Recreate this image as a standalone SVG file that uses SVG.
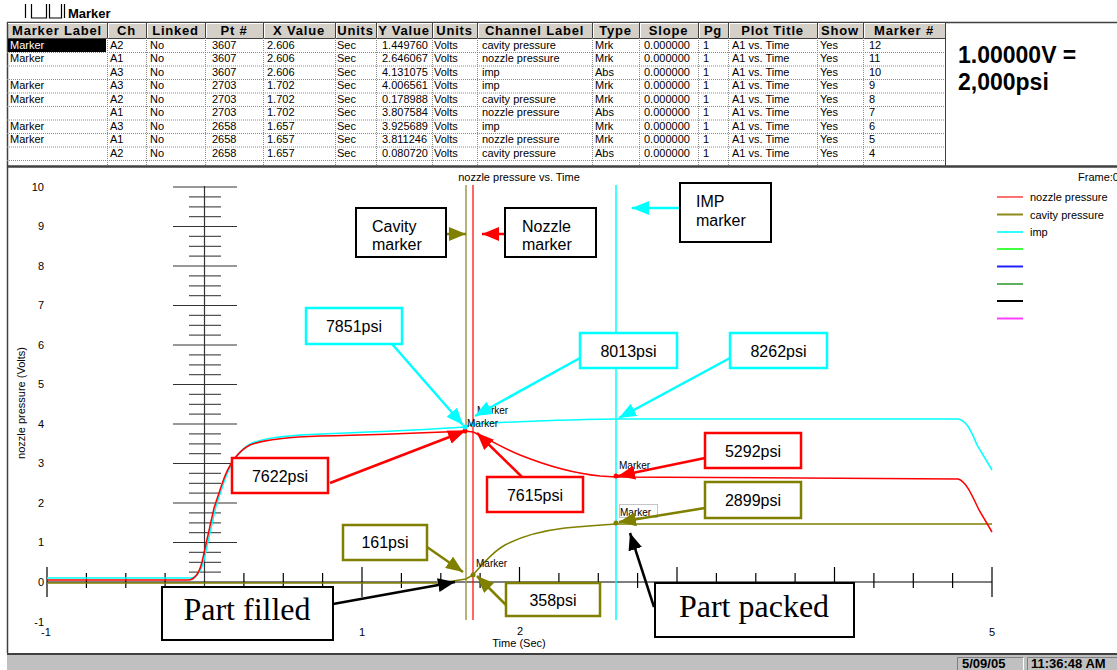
<svg xmlns="http://www.w3.org/2000/svg" width="1117" height="670" viewBox="0 0 1117 670">
<defs>
<style>
.sans{font-family:"Liberation Sans",Arial,sans-serif}
.hdr{font-family:"Liberation Sans",Arial,sans-serif;font-weight:bold;font-size:13px;letter-spacing:0.8px;text-anchor:middle;fill:#000}
.cell{font-family:"Liberation Sans",Arial,sans-serif;font-size:11px;fill:#000}
.ax{font-family:"Liberation Sans",Arial,sans-serif;font-size:11px;fill:#000}
.axr{font-family:"Liberation Sans",Arial,sans-serif;font-size:11px;fill:#000;text-anchor:end}
.axm{font-family:"Liberation Sans",Arial,sans-serif;font-size:11px;fill:#000;text-anchor:middle}
.note{font-family:"Liberation Sans",Arial,sans-serif;font-size:16px;fill:#000}
.notec{font-family:"Liberation Sans",Arial,sans-serif;font-size:16px;fill:#000;text-anchor:middle}
.big{font-family:"Liberation Serif","Times New Roman",serif;font-size:32px;fill:#000;text-anchor:middle}
.mk{font-family:"Liberation Sans",Arial,sans-serif;font-size:10px;fill:#000}
.dot{stroke:#8a8a8a;stroke-width:1;stroke-dasharray:1 1;fill:none}
.edge{stroke:#404040;fill:none}
.bc{fill:#fff;stroke:#00ffff;stroke-width:2.5}
.br{fill:#fff;stroke:#ff0000;stroke-width:2.5}
.bo{fill:#fff;stroke:#808000;stroke-width:2.5}
.bk{fill:#fff;stroke:#000;stroke-width:2}
.ac{stroke:#00ffff;stroke-width:2.5;fill:none;marker-end:url(#ah-c)}
.ar{stroke:#ff0000;stroke-width:2.5;fill:none;marker-end:url(#ah-r)}
.ao{stroke:#808000;stroke-width:2.5;fill:none;marker-end:url(#ah-o)}
.ak{stroke:#000;stroke-width:2.5;fill:none;marker-end:url(#ah-k)}
.stat{font-family:"Liberation Sans",Arial,sans-serif;font-size:13px;font-weight:bold;fill:#000}
</style>
<marker id="ah-c" viewBox="0 0 17 14" refX="17" refY="7" markerWidth="17" markerHeight="14" orient="auto" markerUnits="userSpaceOnUse"><path d="M0,0 L17,7 L0,14 z" fill="#00ffff"/></marker>
<marker id="ah-r" viewBox="0 0 17 14" refX="17" refY="7" markerWidth="17" markerHeight="14" orient="auto" markerUnits="userSpaceOnUse"><path d="M0,0 L17,7 L0,14 z" fill="#ff0000"/></marker>
<marker id="ah-o" viewBox="0 0 17 14" refX="17" refY="7" markerWidth="17" markerHeight="14" orient="auto" markerUnits="userSpaceOnUse"><path d="M0,0 L17,7 L0,14 z" fill="#808000"/></marker>
<marker id="ah-k" viewBox="0 0 17 14" refX="17" refY="7" markerWidth="17" markerHeight="14" orient="auto" markerUnits="userSpaceOnUse"><path d="M0,0 L17,7 L0,14 z" fill="#000"/></marker>
</defs>

<rect x="0" y="0" width="1117" height="670" fill="#fff"/>

<!-- window title strip -->
<g id="title-strip">
  <path d="M25.5,4V18 M31.5,4V18H46.5V4 M49.5,4V18H61.5V4 M64.5,4V18" stroke="#000" stroke-width="1.2" fill="none"/>
  <text x="68" y="18" class="sans" font-size="13" font-weight="bold">Marker</text>
</g>

<!-- marker table -->
<g id="marker-table">
  <rect x="7" y="22" width="938" height="16" fill="#d4d0c8"/>
  <path class="edge" stroke-width="1.5" d="M7,22.5H1117 M7.5,22V167"/>
  <path class="edge" d="M7,38.5H945"/>
  <path stroke="#fff" d="M8,23.5H945"/>
  <path class="edge" d="M107.5,22V38 M146.5,22V38 M205.5,22V38 M263.5,22V38 M335.5,22V38 M376.5,22V38 M432.5,22V38 M477.5,22V38 M592.5,22V38 M639.5,22V38 M698.5,22V38 M728.5,22V38 M817.5,22V38 M863.5,22V38"/>
  <path stroke="#fff" d="M108.5,23V38 M147.5,23V38 M206.5,23V38 M264.5,23V38 M336.5,23V38 M377.5,23V38 M433.5,23V38 M478.5,23V38 M593.5,23V38 M640.5,23V38 M699.5,23V38 M729.5,23V38 M818.5,23V38 M864.5,23V38"/>
  <text class="hdr" y="35"><tspan x="57">Marker Label</tspan><tspan x="126.5">Ch</tspan><tspan x="175.5">Linked</tspan><tspan x="234">Pt #</tspan><tspan x="299">X Value</tspan><tspan x="355.5">Units</tspan><tspan x="404">Y Value</tspan><tspan x="454.5">Units</tspan><tspan x="534.5">Channel Label</tspan><tspan x="615.5">Type</tspan><tspan x="668.5">Slope</tspan><tspan x="713">Pg</tspan><tspan x="772.5">Plot Title</tspan><tspan x="840">Show</tspan><tspan x="904">Marker #</tspan></text>
  <!-- cell grid -->
  <path class="dot" d="M7,52.5H945 M7,66H945 M7,79.5H945 M7,93H945 M7,106.5H945 M7,120H945 M7,133.5H945 M7,147H945 M7,160.5H945"/>
  <path class="dot" d="M107.5,38V165 M146.5,38V165 M205.5,38V165 M263.5,38V165 M335.5,38V165 M376.5,38V165 M432.5,38V165 M477.5,38V165 M592.5,38V165 M639.5,38V165 M698.5,38V165 M728.5,38V165 M817.5,38V165 M863.5,38V165"/>
  <rect x="8" y="39" width="98" height="13" fill="#000"/>
  <!-- column: Marker Label -->
  <text class="cell" x="10"><tspan y="48.5" fill="#fff">Marker</tspan><tspan x="10" y="62">Marker</tspan><tspan x="10" y="89">Marker</tspan><tspan x="10" y="102.5">Marker</tspan><tspan x="10" y="129.5">Marker</tspan><tspan x="10" y="143">Marker</tspan></text>
  <text class="cell"><tspan x="110" y="48.5">A2</tspan><tspan x="110" y="62">A1</tspan><tspan x="110" y="75.5">A3</tspan><tspan x="110" y="89">A3</tspan><tspan x="110" y="102.5">A2</tspan><tspan x="110" y="116">A1</tspan><tspan x="110" y="129.5">A3</tspan><tspan x="110" y="143">A1</tspan><tspan x="110" y="156.5">A2</tspan></text>
  <text class="cell"><tspan x="150" y="48.5">No</tspan><tspan x="150" y="62">No</tspan><tspan x="150" y="75.5">No</tspan><tspan x="150" y="89">No</tspan><tspan x="150" y="102.5">No</tspan><tspan x="150" y="116">No</tspan><tspan x="150" y="129.5">No</tspan><tspan x="150" y="143">No</tspan><tspan x="150" y="156.5">No</tspan></text>
  <text class="cell"><tspan x="212" y="48.5">3607</tspan><tspan x="212" y="62">3607</tspan><tspan x="212" y="75.5">3607</tspan><tspan x="212" y="89">2703</tspan><tspan x="212" y="102.5">2703</tspan><tspan x="212" y="116">2703</tspan><tspan x="212" y="129.5">2658</tspan><tspan x="212" y="143">2658</tspan><tspan x="212" y="156.5">2658</tspan></text>
  <text class="cell"><tspan x="267" y="48.5">2.606</tspan><tspan x="267" y="62">2.606</tspan><tspan x="267" y="75.5">2.606</tspan><tspan x="267" y="89">1.702</tspan><tspan x="267" y="102.5">1.702</tspan><tspan x="267" y="116">1.702</tspan><tspan x="267" y="129.5">1.657</tspan><tspan x="267" y="143">1.657</tspan><tspan x="267" y="156.5">1.657</tspan></text>
  <text class="cell"><tspan x="337" y="48.5">Sec</tspan><tspan x="337" y="62">Sec</tspan><tspan x="337" y="75.5">Sec</tspan><tspan x="337" y="89">Sec</tspan><tspan x="337" y="102.5">Sec</tspan><tspan x="337" y="116">Sec</tspan><tspan x="337" y="129.5">Sec</tspan><tspan x="337" y="143">Sec</tspan><tspan x="337" y="156.5">Sec</tspan></text>
  <text class="cell"><tspan x="382" y="48.5">1.449760</tspan><tspan x="382" y="62">2.646067</tspan><tspan x="382" y="75.5">4.131075</tspan><tspan x="382" y="89">4.006561</tspan><tspan x="382" y="102.5">0.178988</tspan><tspan x="382" y="116">3.807584</tspan><tspan x="382" y="129.5">3.925689</tspan><tspan x="382" y="143">3.811246</tspan><tspan x="382" y="156.5">0.080720</tspan></text>
  <text class="cell"><tspan x="434" y="48.5">Volts</tspan><tspan x="434" y="62">Volts</tspan><tspan x="434" y="75.5">Volts</tspan><tspan x="434" y="89">Volts</tspan><tspan x="434" y="102.5">Volts</tspan><tspan x="434" y="116">Volts</tspan><tspan x="434" y="129.5">Volts</tspan><tspan x="434" y="143">Volts</tspan><tspan x="434" y="156.5">Volts</tspan></text>
  <text class="cell"><tspan x="482" y="48.5">cavity pressure</tspan><tspan x="482" y="62">nozzle pressure</tspan><tspan x="482" y="75.5">imp</tspan><tspan x="482" y="89">imp</tspan><tspan x="482" y="102.5">cavity pressure</tspan><tspan x="482" y="116">nozzle pressure</tspan><tspan x="482" y="129.5">imp</tspan><tspan x="482" y="143">nozzle pressure</tspan><tspan x="482" y="156.5">cavity pressure</tspan></text>
  <text class="cell"><tspan x="595" y="48.5">Mrk</tspan><tspan x="595" y="62">Mrk</tspan><tspan x="595" y="75.5">Abs</tspan><tspan x="595" y="89">Mrk</tspan><tspan x="595" y="102.5">Mrk</tspan><tspan x="595" y="116">Abs</tspan><tspan x="595" y="129.5">Mrk</tspan><tspan x="595" y="143">Mrk</tspan><tspan x="595" y="156.5">Abs</tspan></text>
  <text class="cell"><tspan x="644" y="48.5">0.000000</tspan><tspan x="644" y="62">0.000000</tspan><tspan x="644" y="75.5">0.000000</tspan><tspan x="644" y="89">0.000000</tspan><tspan x="644" y="102.5">0.000000</tspan><tspan x="644" y="116">0.000000</tspan><tspan x="644" y="129.5">0.000000</tspan><tspan x="644" y="143">0.000000</tspan><tspan x="644" y="156.5">0.000000</tspan></text>
  <text class="cell"><tspan x="703" y="48.5">1</tspan><tspan x="703" y="62">1</tspan><tspan x="703" y="75.5">1</tspan><tspan x="703" y="89">1</tspan><tspan x="703" y="102.5">1</tspan><tspan x="703" y="116">1</tspan><tspan x="703" y="129.5">1</tspan><tspan x="703" y="143">1</tspan><tspan x="703" y="156.5">1</tspan></text>
  <text class="cell"><tspan x="732" y="48.5">A1 vs. Time</tspan><tspan x="732" y="62">A1 vs. Time</tspan><tspan x="732" y="75.5">A1 vs. Time</tspan><tspan x="732" y="89">A1 vs. Time</tspan><tspan x="732" y="102.5">A1 vs. Time</tspan><tspan x="732" y="116">A1 vs. Time</tspan><tspan x="732" y="129.5">A1 vs. Time</tspan><tspan x="732" y="143">A1 vs. Time</tspan><tspan x="732" y="156.5">A1 vs. Time</tspan></text>
  <text class="cell"><tspan x="820" y="48.5">Yes</tspan><tspan x="820" y="62">Yes</tspan><tspan x="820" y="75.5">Yes</tspan><tspan x="820" y="89">Yes</tspan><tspan x="820" y="102.5">Yes</tspan><tspan x="820" y="116">Yes</tspan><tspan x="820" y="129.5">Yes</tspan><tspan x="820" y="143">Yes</tspan><tspan x="820" y="156.5">Yes</tspan></text>
  <text class="cell"><tspan x="869" y="48.5">12</tspan><tspan x="869" y="62">11</tspan><tspan x="869" y="75.5">10</tspan><tspan x="869" y="89">9</tspan><tspan x="869" y="102.5">8</tspan><tspan x="869" y="116">7</tspan><tspan x="869" y="129.5">6</tspan><tspan x="869" y="143">5</tspan><tspan x="869" y="156.5">4</tspan></text>
  <path class="edge" d="M945.5,22V166"/>
  <path class="edge" stroke-width="2.5" d="M7,166.5H1117"/>
</g>

<!-- scale note panel -->
<g id="scale-note">
  <text class="sans" font-size="23" font-weight="bold" x="958"><tspan y="63">1.00000V =</tspan><tspan x="958" y="90">2,000psi</tspan></text>
</g>

<!-- plot frame -->
<g id="plot-frame">
  <path class="edge" stroke-width="1.5" d="M7.5,167V653"/>
  <text class="axm" x="519" y="181">nozzle pressure vs. Time</text>
  <text class="ax" x="1078" y="181">Frame:0</text>
</g>

<!-- axes -->
<g id="axes" fill="none">
  <path stroke="#333" stroke-width="1.2" d="M173,187h64M173,226.5h64M173,266h64M173,305.5h64M173,345h64M173,384.5h64M173,424h64M173,463.5h64M173,503h64M173,542.5h64"/>
  <path stroke="#555" stroke-width="1.2" d="M189,572.1h32M189,562.3h32M189,552.4h32M189,532.6h32M189,522.8h32M189,512.9h32M189,493.1h32M189,483.3h32M189,473.4h32M189,453.6h32M189,443.8h32M189,433.9h32M189,414.1h32M189,404.3h32M189,394.4h32M189,374.6h32M189,364.8h32M189,354.9h32M189,335.1h32M189,325.3h32M189,315.4h32M189,295.6h32M189,285.8h32M189,275.9h32M189,256.1h32M189,246.3h32M189,236.4h32M189,216.6h32M189,206.8h32M189,196.9h32"/>
  <path stroke="#333" stroke-width="1.2" d="M204.5,186V597"/>
  <path stroke="#000" stroke-width="1.2" d="M47,582H992"/>
  <path stroke="#000" stroke-width="1.2" d="M47,567V597M362,567V597M519.5,567V597M677,567V597M834.5,567V597M992,567V597"/>
  <path stroke="#000" stroke-width="1.2" d="M86.4,573V588M125.8,573V588M165.1,573V588M243.9,573V588M283.3,573V588M322.6,573V588M401.4,573V588M440.8,573V588M480.1,573V588M558.9,573V588M598.3,573V588M637.6,573V588M716.4,573V588M755.8,573V588M795.1,573V588M873.9,573V588M913.3,573V588M952.6,573V588"/>
  <text class="axr"><tspan x="44" y="190.5">10</tspan><tspan x="44" y="230">9</tspan><tspan x="44" y="269.5">8</tspan><tspan x="44" y="309">7</tspan><tspan x="44" y="348.5">6</tspan><tspan x="44" y="388">5</tspan><tspan x="44" y="427.5">4</tspan><tspan x="44" y="467">3</tspan><tspan x="44" y="506.5">2</tspan><tspan x="44" y="546">1</tspan><tspan x="44" y="585.5">0</tspan><tspan x="44" y="626">-1</tspan></text>
  <text class="axm"><tspan x="46" y="636">-1</tspan><tspan x="362" y="636">1</tspan><tspan x="520" y="635">2</tspan><tspan x="992" y="636">5</tspan></text>
  <text class="axm" x="519" y="647">Time (Sec)</text>
  <text class="axm" transform="translate(25,403) rotate(-90)">nozzle pressure (Volts)</text>
</g>

<!-- legend -->
<g id="legend" stroke-width="2">
  <path stroke="#ff7070" d="M997,197H1023"/>
  <path stroke="#8a8a1a" d="M997,214.5H1023"/>
  <path stroke="#30ffff" d="M997,232H1023"/>
  <path stroke="#40ff40" d="M997,249H1023"/>
  <path stroke="#2020ff" d="M997,266.5H1023"/>
  <path stroke="#60b060" d="M997,284H1023"/>
  <path stroke="#000" d="M997,301H1023"/>
  <path stroke="#ff40ff" d="M997,318.5H1023"/>
  <text class="ax" stroke="none"><tspan x="1030" y="201">nozzle pressure</tspan><tspan x="1030" y="218.5">cavity pressure</tspan><tspan x="1030" y="236">imp</tspan></text>
</g>

<!-- marker cursor lines -->
<g id="cursor-lines" fill="none">
  <path stroke="#a09a50" stroke-width="1.5" d="M466,185V620"/>
  <path stroke="#ff0000" stroke-width="1.2" d="M473,185V620"/>
  <path stroke="#00ffff" stroke-width="1.5" d="M616,185V620"/>
</g>

<!-- signal traces -->
<g id="traces" fill="none" stroke-width="1.5">
  <path id="trace-cavity" stroke="#808000" d="M47,583 H440 L466,579 L473,575 C482,565 492,552 505,545 C520,537 540,531 565,528 C585,526 600,525 616,524 H992"/>
  <path id="trace-imp" stroke="#00ffff" d="M47,578 H190 C196,578 201,572 204,560 L210,533 L216,506 L224,482 C230,464 238,450 252,443 C267,437 292,435 322,434 C372,432 422,430 465,427 L473,424 C520,421 560,420 616,419 H958 C966,420 971,430 977,445 L992,470"/>
  <path id="trace-nozzle" stroke="#ff0000" d="M47,580 H188 C194,580 199,574 202,562 L208,535 L214,508 L222,484 C228,466 236,452 250,445 C265,439 290,437 320,436 C370,435 420,433 465,431 L473,432 C485,437 500,447 520,455 C545,465 570,473 600,476 L616,477 C650,478 700,478 958,479 C966,481 972,495 979,510 L992,532"/>
</g>

<!-- marker points and tags -->
<g id="marker-points">
  <circle cx="465" cy="431" r="2.5" fill="#ff0000"/>
  <circle cx="465" cy="427" r="2.5" fill="#00ffff"/>
  <circle cx="473" cy="424" r="2.5" fill="#00ffff"/>
  <circle cx="473" cy="575" r="2.5" fill="#808000"/>
  <circle cx="616" cy="476" r="2.5" fill="#ff0000"/>
  <circle cx="616" cy="523" r="2.5" fill="#808000"/>
  <text class="mk" x="477" y="414">Marker</text>
  <text class="mk" x="467" y="427">Marker</text>
  <text class="mk" x="476" y="567">Marker</text>
  <text class="mk" x="619" y="469">Marker</text>
  <rect class="dot" x="619.5" y="504.5" width="38" height="13"/>
  <text class="mk" x="620" y="516">Marker</text>
</g>

<!-- connectors -->
<g id="connectors">
  <path class="ac" d="M392,344 L463,425"/>
  <path class="ac" d="M580,358 L475,416"/>
  <path class="ac" d="M730,358 L619,418"/>
  <path class="ac" d="M680,208 L632,208"/>
  <path class="ar" d="M330,483 L465,431"/>
  <path class="ar" d="M522,477 L477,433"/>
  <path class="ar" d="M705,458 L618,476"/>
  <path class="ar" d="M505,234 L482,234"/>
  <path class="ao" d="M705,508 L619,522"/>
  <path class="ao" d="M427,547 L463,572"/>
  <path class="ao" d="M506,605 L477,576"/>
  <path class="ao" d="M446,234 L466,234"/>
  <path class="ak" d="M333,604 L455,582"/>
  <path class="ak" d="M654,607 L630,533"/>
</g>

<!-- annotation nodes -->
<g id="note-cavity-marker"><rect class="bk" x="356" y="208" width="90" height="49"/><text class="note" x="372"><tspan y="232">Cavity</tspan><tspan x="372" y="250">marker</tspan></text></g>
<g id="note-nozzle-marker"><rect class="bk" x="505" y="208" width="91" height="49"/><text class="note" x="522"><tspan y="232">Nozzle</tspan><tspan x="522" y="250">marker</tspan></text></g>
<g id="note-imp-marker"><rect class="bk" x="680" y="183" width="91" height="59"/><text class="note" x="696"><tspan y="207">IMP</tspan><tspan x="696" y="226">marker</tspan></text></g>
<g id="note-7851"><rect class="bc" x="306" y="308" width="96" height="36"/><text class="notec" x="354" y="332">7851psi</text></g>
<g id="note-8013"><rect class="bc" x="580" y="333" width="97" height="35"/><text class="notec" x="628.5" y="357">8013psi</text></g>
<g id="note-8262"><rect class="bc" x="730" y="333" width="97" height="35"/><text class="notec" x="778.5" y="357">8262psi</text></g>
<g id="note-7622"><rect class="br" x="232" y="458" width="96" height="35"/><text class="notec" x="280" y="482">7622psi</text></g>
<g id="note-7615"><rect class="br" x="487" y="477" width="96" height="35"/><text class="notec" x="535" y="501">7615psi</text></g>
<g id="note-5292"><rect class="br" x="705" y="433" width="96" height="35"/><text class="notec" x="753" y="457">5292psi</text></g>
<g id="note-2899"><rect class="bo" x="705" y="482" width="96" height="36"/><text class="notec" x="753" y="506">2899psi</text></g>
<g id="note-161"><rect class="bo" x="343" y="525" width="84" height="35"/><text class="notec" x="385" y="548">161psi</text></g>
<g id="note-358"><rect class="bo" x="506" y="583" width="94" height="33"/><text class="notec" x="553" y="606">358psi</text></g>
<g id="note-part-filled"><rect class="bk" x="162" y="587" width="171" height="53"/><text class="big" x="247" y="620">Part filled</text></g>
<g id="note-part-packed"><rect class="bk" x="655" y="583" width="199" height="54"/><text class="big" x="754" y="617">Part packed</text></g>

<!-- status bar -->
<g id="status-bar">
  <rect x="7" y="654" width="1110" height="16" fill="#c0c0c0"/>
  <path class="edge" stroke-width="2" d="M7,654H1117"/>
  <path stroke="#808080" fill="none" d="M957.5,670V657.5H1023 M1027.5,670V657.5H1117"/>
  <path stroke="#fff" fill="none" d="M1023.5,658V670"/>
  <text class="stat" x="962" y="668">5/09/05</text>
  <text class="stat" x="1031" y="668">11:36:48 AM</text>
</g>
</svg>
